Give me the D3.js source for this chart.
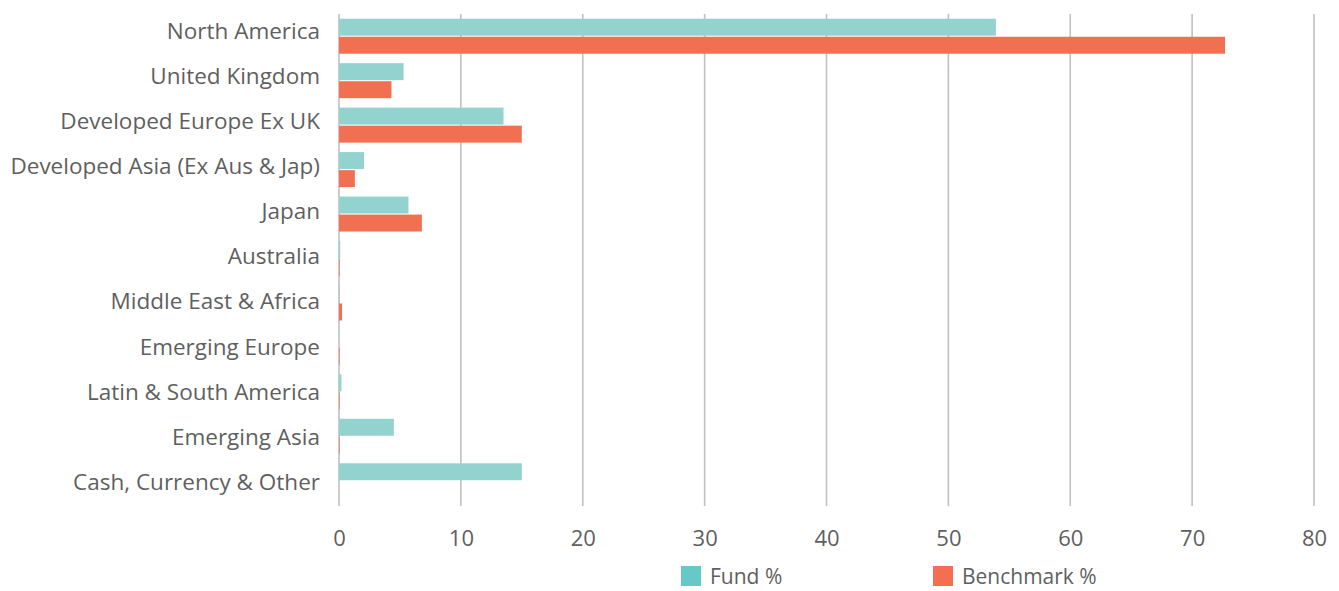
<!DOCTYPE html>
<html>
<head>
<meta charset="utf-8">
<script src="https://cdn.jsdelivr.net/npm/d3@7"></script>
<style>
  body { margin: 0; background: #fff; }
  text { font-family: "Open Sans", Lato, sans-serif; fill: #5f5f5f; }
</style>
</head>
<body>
<div class="canvas"></div>
<script>
const regions = ['North America', 'United Kingdom', 'Developed Europe Ex UK',
  'Developed Asia (Ex Aus & Jap)', 'Japan', 'Australia', 'Middle East & Africa',
  'Emerging Europe', 'Latin & South America', 'Emerging Asia', 'Cash, Currency & Other']
const fund = [53.9, 5.3, 13.5, 2.05, 5.7, 0.1, 0.05, 0, 0.2, 4.5, 15.0]
const benchmark = [72.7, 4.3, 15.0, 1.3, 6.8, 0.05, 0.25, 0.05, 0.05, 0.05, 0]
const ticks = [0, 10, 20, 30, 40, 50, 60, 70, 80]
const seriesNames = ['Fund %', 'Benchmark %']

const size = {width: 1339, height: 591}
const margin = {top: 14, right: 25, bottom: 87, left: 339}
const width = size.width - margin.left - margin.right
const height = size.height - margin.top - margin.bottom

const svg = d3.select('.canvas').append('svg')
  .attr('width', size.width)
  .attr('height', size.height)

const g = svg.append('g')
  .attr('transform', `translate(${margin.left}, ${margin.top})`)

const x = d3.scaleLinear().domain([0, 80]).range([0, 975])
const y = d3.scaleBand().domain(regions).range([0, height - 1])
// category labels sit on a slightly taller band than the bars
const yLabel = d3.scaleBand().domain(regions).range([-5.5, height + 0.5])
const sub = d3.scaleBand().domain(seriesNames).range([-17.5, 17.5]).paddingInner(0.06)

// gridlines
g.append('g').selectAll('line')
  .data(ticks)
  .join('line')
  .attr('x1', d => x(d)).attr('x2', d => x(d))
  .attr('y1', 0).attr('y2', height + 2)
  .attr('stroke', '#c0c0c0')
  .attr('stroke-width', 1.6)

const xAxis = d3.axisBottom(x).tickValues(ticks).tickSize(0).tickPadding(24)
g.append('g')
  .attr('transform', `translate(0, ${height + 2})`)
  .call(xAxis)
  .call(a => a.select('.domain').remove())
  .selectAll('text')
  .style('font-size', '22px')
  .attr('fill', '#5f5f5f')

const yAxis = d3.axisLeft(yLabel).tickSize(0).tickPadding(19)
g.append('g')
  .call(yAxis)
  .call(a => a.select('.domain').remove())
  .selectAll('text')
  .style('font-size', '22.5px')
  .attr('fill', '#5f5f5f')
  .attr('dy', '0.35em')

const colors = {'Fund %': '#92d3cf', 'Benchmark %': '#f27052'}
const legendColors = {'Fund %': '#67c9c5', 'Benchmark %': '#f46f52'}

const rows = regions.map((r, i) => ({region: r, values: [
  {name: 'Fund %', value: fund[i]},
  {name: 'Benchmark %', value: benchmark[i]}
]}))

g.append('g').selectAll('g')
  .data(rows)
  .join('g')
  .attr('transform', d => `translate(0, ${y(d.region) + y.bandwidth() / 2})`)
  .selectAll('rect')
  .data(d => d.values)
  .join('rect')
  .attr('x', x(0))
  .attr('y', d => sub(d.name))
  .attr('width', d => x(d.value) - x(0))
  .attr('height', sub.bandwidth())
  .attr('fill', d => colors[d.name])

const legend = svg.append('g')
  .attr('transform', 'translate(681, 566)')
const items = legend.selectAll('g')
  .data(seriesNames)
  .join('g')
  .attr('transform', (d, i) => `translate(${i * 252}, 0)`)
items.append('rect')
  .attr('width', 20).attr('height', 20)
  .attr('fill', d => legendColors[d])
items.append('text')
  .attr('x', 29).attr('y', 11)
  .attr('dy', '0.35em')
  .style('font-size', '21px')
  .text(d => d)
</script>
</body>
</html>
